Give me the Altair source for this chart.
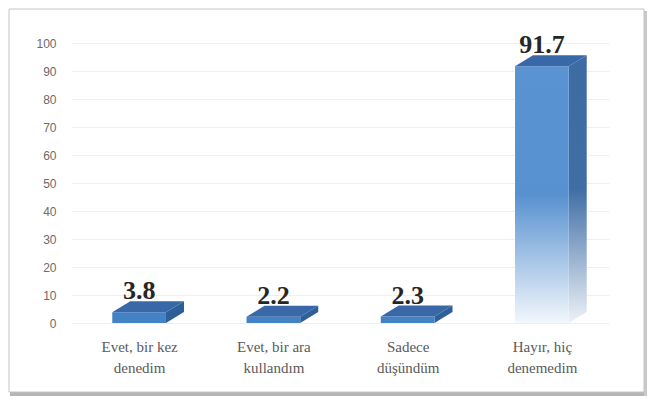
import altair as alt
import pandas as pd

# ---- data ----
categories = ["Evet, bir kez denedim", "Evet, bir ara kullandım", "Sadece düşündüm", "Hayır, hiç denemedim"]
label_lines = [["Evet, bir kez", "denedim"], ["Evet, bir ara", "kullandım"], ["Sadece", "düşündüm"], ["Hayır, hiç", "denemedim"]]
values = [3.8, 2.2, 2.3, 91.7]
y_ticks = list(range(0, 101, 10))

# ---- geometry (style) ----
W, H = 537, 280
HALF = 0.2                 # half front-face width in category units
DX = 18 / (W / 4)          # depth offset in x units
DY = 11 / (H / 100)        # depth offset in y units

front_rows, top_rows, side_rows = [], [], []
for i, v in enumerate(values):
    big = "big" if v > 50 else "small"
    xl, xr = i - HALF, i + HALF
    front_rows.append(dict(idx=i, cat=categories[i], v=v, xl=xl, xr=xr, kind=big, ty=v + DY))
    for (x, y, y2) in [(xl, v, v), (xl + DX, v + DY, v), (xr, v + DY, v), (xr + DX, v + DY, v + DY)]:
        top_rows.append(dict(idx=i, x=x, y=y, y2=y2, kind=big))
    for (x, y, y2) in [(xr, v, 0), (xr + DX, v + DY, DY)]:
        side_rows.append(dict(idx=i, x=x, y=y, y2=y2, kind=big))

front = pd.DataFrame(front_rows)
top = pd.DataFrame(top_rows)
side = pd.DataFrame(side_rows)

label_expr = "[" + ",".join("[" + ",".join("'" + s + "'" for s in pair) + "]" for pair in label_lines) + "][datum.value]"

xscale = alt.Scale(domain=[-0.5, 3.5], nice=False, zero=False)
yscale = alt.Scale(domain=[0, 100], nice=False)

x_axis = alt.Axis(values=[0, 1, 2, 3], labelExpr=label_expr, title=None, grid=False, domain=False, ticks=False,
                  labelFont="Liberation Serif", labelFontSize=15, labelColor="#5a5a5a", labelLineHeight=21,
                  labelPadding=16, labelBaseline="top")
y_axis = alt.Axis(values=y_ticks, title=None, domain=False, ticks=False, labelPadding=16,
                  labelFont="Liberation Sans", labelFontSize=12, labelColor="#6a6a6a",
                  grid=True, gridColor="#efefef", gridWidth=1, labelOverlap=False)


def X(field):
    return alt.X(field, scale=xscale, axis=x_axis)


def Y(field):
    return alt.Y(field, scale=yscale, axis=y_axis)


def grad(c_top, c_mid, c_bot, mid=0.5):
    return alt.Gradient(gradient="linear", x1=0, x2=0, y1=0, y2=1,
                        stops=[alt.GradientStop(color=c_top, offset=0),
                               alt.GradientStop(color=c_mid, offset=mid),
                               alt.GradientStop(color=c_bot, offset=1)])

frame_df = pd.DataFrame({"f": [0]})
shadow_b = alt.Chart(frame_df).mark_rect(color="#b5b5b5").encode(
    x=alt.value(-62), x2=alt.value(W + 38), y=alt.value(H + 69), y2=alt.value(H + 73))
shadow_r = alt.Chart(frame_df).mark_rect(color="#c8c8c8").encode(
    x=alt.value(W + 35), x2=alt.value(W + 38), y=alt.value(-32), y2=alt.value(H + 73))
frame = alt.Chart(frame_df).mark_rect(fillOpacity=0, stroke="#c4c4c4", strokeWidth=1).encode(
    x=alt.value(-63), x2=alt.value(W + 35), y=alt.value(-34), y2=alt.value(H + 69))

base_front = alt.Chart(front)

front_small = base_front.transform_filter("datum.kind == 'small'").mark_bar(color="#4482c6").encode(
    x=X("xl:Q"), x2="xr:Q", y=Y("v:Q"), y2=alt.datum(0))
front_big = base_front.transform_filter("datum.kind == 'big'").mark_bar(
    color=grad("#5a93d2", "#5891d0", "#f2f7fc", 0.5)).encode(
    x=X("xl:Q"), x2="xr:Q", y=Y("v:Q"), y2=alt.datum(0))

side_small = alt.Chart(side).transform_filter("datum.kind == 'small'").mark_area(color="#2f5f99").encode(
    x=X("x:Q"), y=Y("y:Q"), y2="y2:Q", detail="idx:N")
side_big = alt.Chart(side).transform_filter("datum.kind == 'big'").mark_area(
    color=grad("#3d6ca4", "#3f6ea6", "#eef2f7", 0.5)).encode(
    x=X("x:Q"), y=Y("y:Q"), y2="y2:Q", detail="idx:N")

top_layer = alt.Chart(top).mark_area(color="#3868a8").encode(
    x=X("x:Q"), y=Y("y:Q"), y2="y2:Q", detail="idx:N")

labels = base_front.mark_text(font="Liberation Serif", fontSize=26, fontWeight="bold", color="#262626",
                              baseline="alphabetic", dy=-2).encode(
    x=X("idx:Q"), y=Y("ty:Q"), text=alt.Text("v:Q", format=".1f"))

chart = alt.layer(shadow_b, shadow_r, frame, side_small, side_big, front_small, front_big,
                  top_layer, labels).properties(
    width=W, height=H,
    autosize=alt.AutoSizeParams(type="none"),
    padding={"left": 64, "top": 35, "right": 38, "bottom": 73},
).configure_view(stroke=None).configure_axisX(
    labelFont="Liberation Serif", labelFontSize=15, labelColor="#5a5a5a"
).configure_axisY(labelFont="Liberation Sans", labelFontSize=12, labelColor="#6a6a6a")

chart.save("out.html", embed_options={"renderer": "svg", "actions": False})
